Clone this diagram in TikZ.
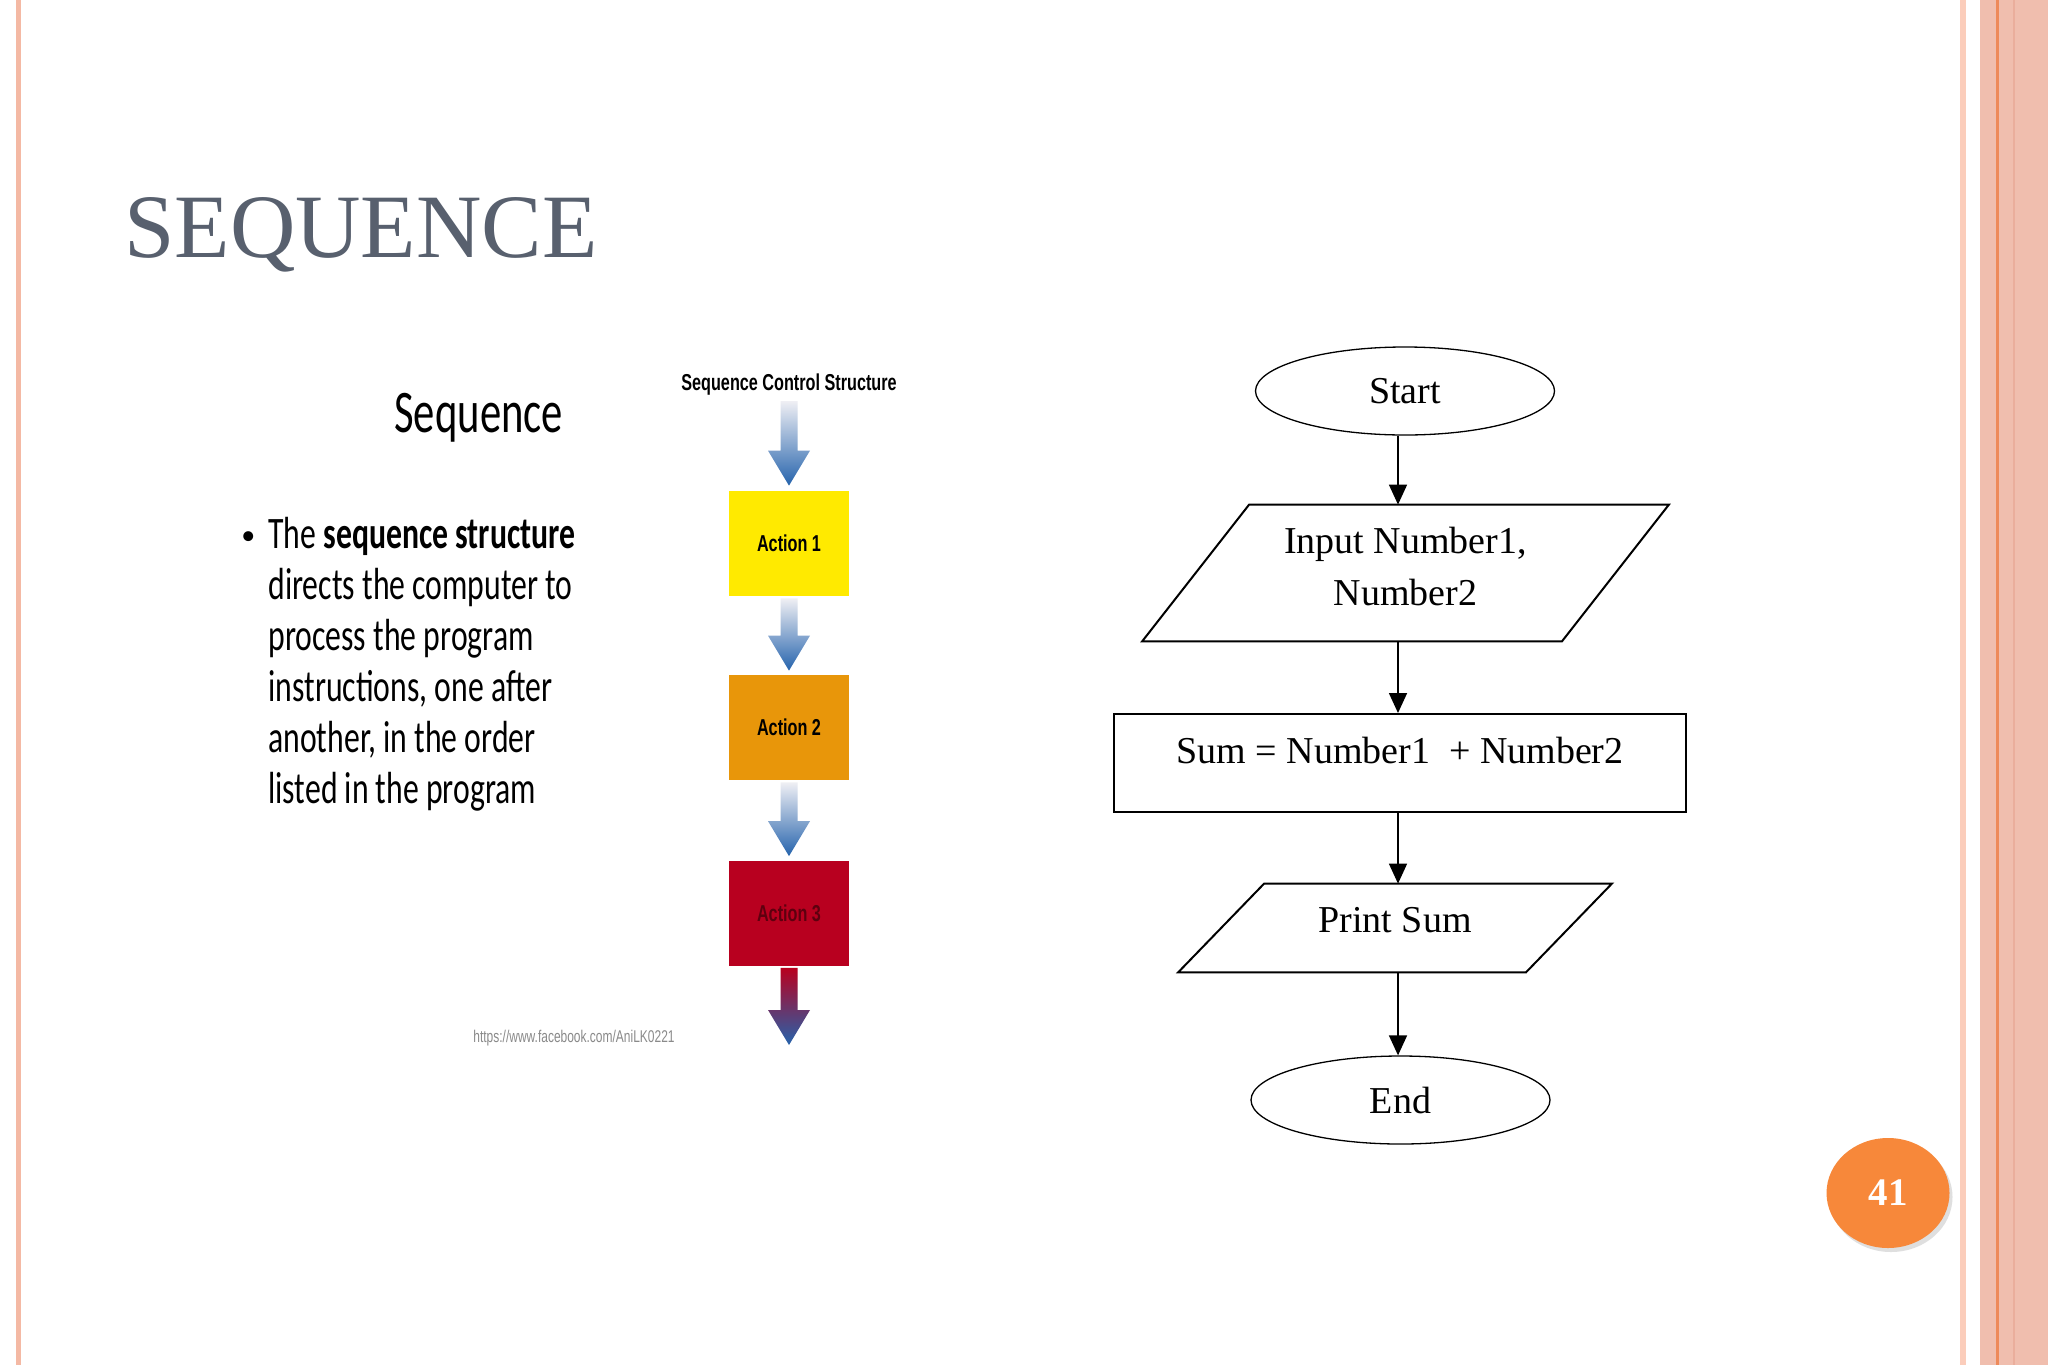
\documentclass[tikz,border=0pt]{standalone}
\usepackage{fontspec}
\setmainfont{Liberation Serif}
\newfontfamily\calib[FakeStretch=0.705]{Carlito}
\newfontfamily\calibfull{Carlito}
\newfontfamily\arialn[FakeStretch=0.705]{Liberation Sans}
\usetikzlibrary{shapes.geometric,arrows.meta,calc,shadows}
\definecolor{titlegray}{HTML}{58606E}
\definecolor{leftline}{HTML}{F4B9A4}
\definecolor{paleline}{HTML}{FBCDBB}
\definecolor{band}{HTML}{F0BEAE}
\definecolor{bandline}{HTML}{EE8A5A}
\definecolor{banddark}{HTML}{EAAE9C}
\definecolor{pageorange}{HTML}{F7883A}
\definecolor{actone}{HTML}{FFEA00}
\definecolor{acttwo}{HTML}{E8960A}
\definecolor{actthree}{HTML}{B8001F}
\definecolor{actthreetext}{HTML}{5E000F}
\definecolor{arrowlight}{HTML}{EFEFF4}
\definecolor{arrowmid}{HTML}{8CA5CF}
\definecolor{arrowpurple}{HTML}{7C5A82}
\definecolor{arrowtip}{HTML}{2563AC}
\definecolor{fbgray}{HTML}{8A8A8A}
\newcommand\seqarrow[4]{%
  \shade[top color=#3, middle color=#4, bottom color=arrowtip]
    ($(#1)+(-8.5,0)$) -- ($(#1)+(8.5,0)$) -- ($(#2)+(8.5,-35)$) -- ($(#2)+(21,-35)$)
    -- (#2) -- ($(#2)+(-21,-35)$) -- ($(#2)+(-8.5,-35)$) -- cycle;}
\begin{document}
\begin{tikzpicture}[x=0.5pt,y=-0.5pt,
  bodytext/.style={anchor=base west, inner sep=0, font=\calib\fontsize{22.5}{25.5}\selectfont},
  actbox/.style={minimum width=60pt, minimum height=52.5pt, inner sep=0,
     font=\arialn\bfseries\fontsize{11.5}{13}\selectfont},
  term/.style={ellipse, draw, line width=0.65pt, minimum width=149.5pt, minimum height=44pt,
     inner sep=0, font=\fontsize{19}{23}\selectfont},
  flowtext/.style={inner sep=0, font=\fontsize{19}{26}\selectfont, align=center},
  shapeline/.style={draw, line width=1pt, line join=miter},
  flowarrow/.style={line width=0.8pt, -{Triangle[length=10pt,width=9pt]}}]
\useasboundingbox (0,0) rectangle (2048,1365);
\fill[white] (0,0) rectangle (2048,1365);
% slide frame
\fill[leftline] (16,0) rectangle (21,1365);
\fill[paleline] (1960,0) rectangle (1966,1365);
\fill[band] (1980,0) rectangle (2048,1365);
\fill[bandline] (1996,0) rectangle (1998.5,1365);
\fill[banddark] (2012.5,0) rectangle (2015,1365);
% title
\node[anchor=base west, inner sep=0, text=titlegray, font=\fontsize{45.3}{50}\selectfont] (title) at (124,257) {SEQUENCE};
% left text
\node[anchor=base west, inner sep=0, font=\calib\fontsize{30.25}{34}\selectfont] (seqhead) at (394,432) {Sequence};
\node[anchor=base west, inner sep=0, font=\calibfull\fontsize{14}{16}\selectfont] (bullet) at (241,544) {•};
\node[bodytext] (l1) at (268,548) {The \textbf{sequence structure}};
\node[bodytext] (l2) at (268,599) {directs the computer to};
\node[bodytext] (l3) at (268,650) {process the program};
\node[bodytext] (l4) at (268,701) {instructions, one after};
\node[bodytext] (l5) at (268,752) {another, in the order};
\node[bodytext] (l6) at (268,803) {listed in the program};
% sequence control structure image
\node[inner sep=0, font=\arialn\bfseries\fontsize{11.5}{13}\selectfont] (sct) at (789,385) {Sequence Control Structure};
\node[actbox, fill=actone] (a1) at (789,543.5) {Action 1};
\node[actbox, fill=acttwo] (a2) at (789,727.5) {Action 2};
\node[actbox, fill=actthree, text=actthreetext] (a3) at (789,913) {Action 3};
\coordinate (s0) at (789,401);
\coordinate (t1) at ($(a1.north)+(0,-5)$);
\coordinate (s1) at ($(a1.south)+(0,2)$);
\coordinate (t2) at ($(a2.north)+(0,-4)$);
\coordinate (s2) at ($(a2.south)+(0,2)$);
\coordinate (t3) at ($(a3.north)+(0,-4)$);
\coordinate (s3) at ($(a3.south)+(0,2)$);
\coordinate (t4) at (789,1045);
\seqarrow{s0}{t1}{arrowlight}{arrowmid}
\seqarrow{s1}{t2}{arrowlight}{arrowmid}
\seqarrow{s2}{t3}{arrowlight}{arrowmid}
\seqarrow{s3}{t4}{actthree}{arrowpurple}
\node[anchor=base west, inner sep=0, text=fbgray, font=\arialn\fontsize{8.5}{10}\selectfont] (fb) at (473,1042) {https://www.facebook.com/AniLK0221};
% flowchart
\coordinate (axis) at (1398,0);
\node[term] (start) at (1405,391) {Start};
\node[flowtext, minimum width=209.5pt, minimum height=68pt, text depth=7pt] (inp) at (1405.5,573) {Input Number1,\\Number2};
\draw[shapeline] ([xshift=26.75pt]inp.north west) -- ([xshift=26.75pt]inp.north east)
   -- ([xshift=-26.75pt]inp.south east) -- ([xshift=-26.75pt]inp.south west) -- cycle;
\node[flowtext, shapeline, minimum width=286pt, minimum height=49pt, text height=13pt, text depth=13pt] (sum) at (1400,763) {Sum = Number1\hspace{0.25em} + Number2};
\node[flowtext, minimum width=173.5pt, minimum height=44pt, text height=13pt, text depth=9pt] (prt) at (1395,928) {Print Sum};
\draw[shapeline] ([xshift=21.5pt]prt.north west) -- ([xshift=21.5pt]prt.north east)
   -- ([xshift=-21.5pt]prt.south east) -- ([xshift=-21.5pt]prt.south west) -- cycle;
\node[term] (end) at (1400.5,1100) {End};
\draw[flowarrow] (start.south -| axis) -- (inp.north -| axis);
\draw[flowarrow] (inp.south -| axis) -- (sum.north -| axis);
\draw[flowarrow] (sum.south -| axis) -- (prt.north -| axis);
\draw[flowarrow] (prt.south -| axis) -- (end.north -| axis);
% page number
\node[ellipse, fill=pageorange, minimum width=61.5pt, minimum height=55pt, inner sep=0,
  drop shadow={shadow xshift=1.5pt, shadow yshift=-2pt, opacity=0.25, fill=gray},
  text=white, font=\bfseries\fontsize{19.5}{22}\selectfont] (pg) at (1888,1193) {41};
\end{tikzpicture}
\end{document}
